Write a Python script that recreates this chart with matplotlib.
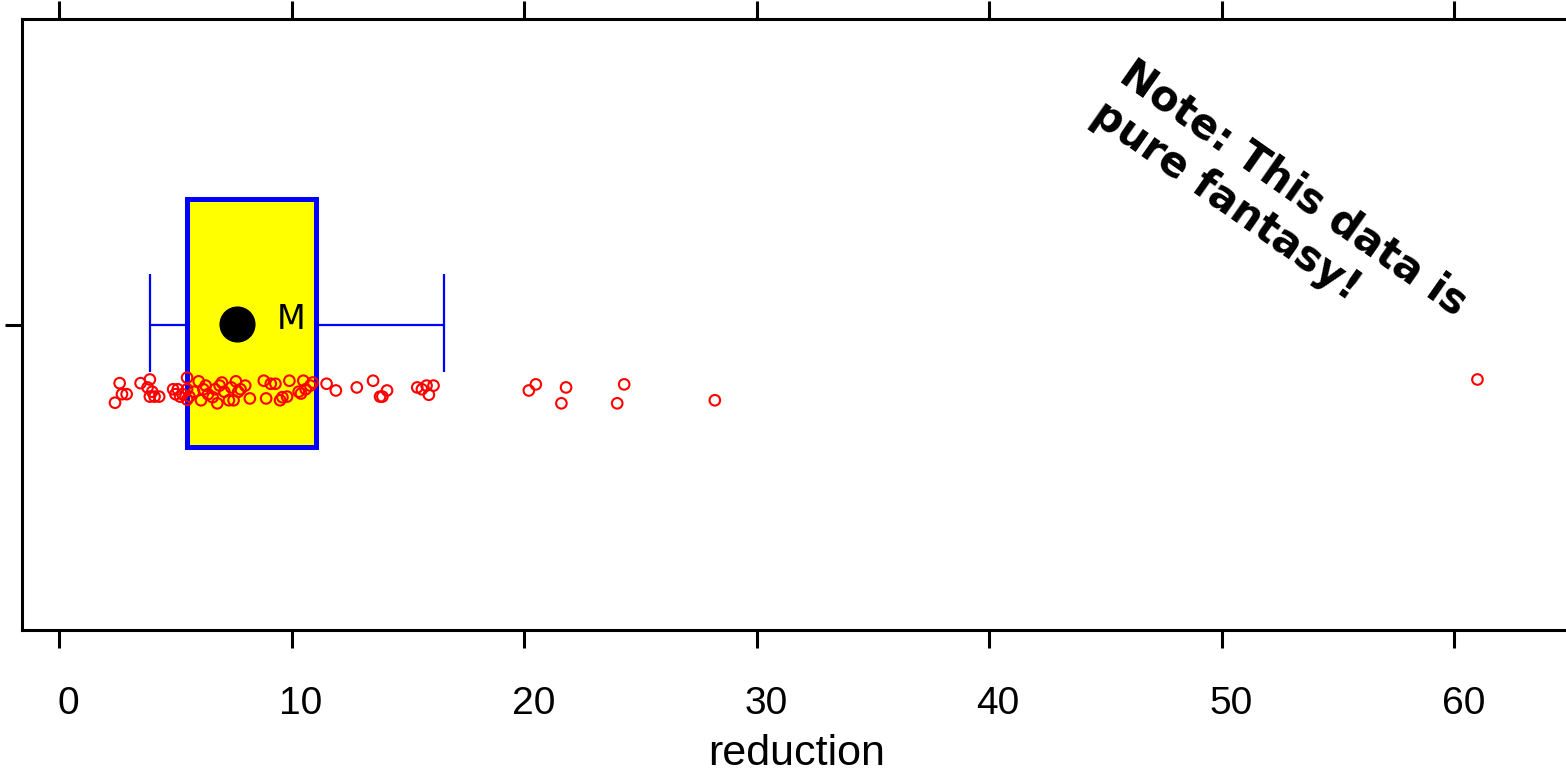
import matplotlib
matplotlib.use("Agg")
import matplotlib.pyplot as plt
import matplotlib.transforms as mtransforms
import numpy as np

# ---- data ----
reduction = [
    2.4, 2.6, 2.7, 2.9, 3.5, 3.8, 3.9, 3.9, 4.0, 4.1, 4.3, 4.9, 5.0, 5.1, 5.2, 5.3,
    5.5, 5.5, 5.5, 5.6, 5.8, 6.0, 6.1, 6.2, 6.3, 6.4, 6.6, 6.7, 6.8, 6.9, 7.0, 7.1,
    7.3, 7.4, 7.5, 7.6, 7.7, 7.8, 8.0, 8.2,
    8.8, 8.9, 9.1, 9.3, 9.5, 9.6, 9.8, 9.9, 10.3, 10.4, 10.5, 10.6, 10.8, 10.9,
    11.5, 11.9,
    12.8, 13.5, 13.8, 13.9, 14.1, 15.4, 15.6, 15.8, 15.9, 16.1,
    20.2, 20.5, 21.6, 21.8, 24.0, 24.3, 28.2, 61.0,
]
jitter = [
    0.872, 0.904, 0.886, 0.886, 0.904, 0.897, 0.910, 0.882, 0.890, 0.882, 0.882, 0.894,
    0.886, 0.894, 0.882, 0.886,
    0.913, 0.877, 0.894, 0.882, 0.890, 0.907, 0.876, 0.894, 0.900, 0.886, 0.881, 0.894,
    0.871, 0.900, 0.905, 0.890, 0.876, 0.897, 0.876, 0.907, 0.890, 0.894, 0.900, 0.879,
    0.908, 0.879, 0.903, 0.903, 0.876, 0.881, 0.882, 0.908, 0.890, 0.887, 0.908, 0.894,
    0.900, 0.905,
    0.903, 0.892,
    0.897, 0.908, 0.882, 0.882, 0.892, 0.897, 0.894, 0.900, 0.885, 0.900,
    0.892, 0.902, 0.871, 0.897, 0.871, 0.902, 0.876, 0.910,
]
q1, median, q3 = 5.5, 7.66, 11.05
whisker_low, whisker_high = 3.9, 16.56
xticks = [0, 10, 20, 30, 40, 50, 60]
note = "Note: This data is\npure fantasy!"

# ---- figure ----
W, H = 1566, 773
fig = plt.figure(figsize=(W / 100, H / 100), dpi=100)
xmin, xmax = -1.6, 66.0
ppu = 23.25
ax_w = (xmax - xmin) * ppu
ax = fig.add_axes([22 / W, (H - 630) / H, ax_w / W, 611 / H])
ax.set_xlim(xmin, xmax)
ax.set_ylim(0.5, 1.5)

# box
ax.barh([1.0025], [q3 - q1], left=q1, height=0.405, color="#FFFF00",
        edgecolor="#0000FF", linewidth=3.6, zorder=2)
# whiskers
ax.hlines([1.0, 1.0], [whisker_low, q3], [q1, whisker_high], color="#0000FF",
          linewidth=1.6, zorder=1)
ax.vlines([whisker_low, whisker_high], 0.922, 1.082, color="#0000FF",
          linewidth=1.6, zorder=1)
# median dot
ax.plot([median], [1.0015], "o", color="black", markersize=25, zorder=4)
ax.text(9.98, 1.008, "M", fontsize=24, ha="center", va="center",
        family="DejaVu Sans", zorder=4)

# points
ax.scatter(reduction, jitter, s=58, facecolors="none", edgecolors="#FF0000",
           linewidths=1.5, zorder=5)

# note
ax.text(52.5, 1.19, note, rotation=-35, rotation_mode="anchor",
        ha="center", va="center", multialignment="left",
        fontsize=30, fontweight="bold", family="DejaVu Sans")

# axes styling
for s in ax.spines.values():
    s.set_linewidth(2.2)
ax.set_xticks(xticks)
ax.set_xticklabels([str(t) for t in xticks], fontsize=28, family="Liberation Sans")
ax.set_yticks([1.0])
ax.set_yticklabels([])
ax.tick_params(axis="x", which="both", top=True, bottom=True, length=13,
               width=2.2, pad=27)
ax.tick_params(axis="y", which="both", left=True, length=12, width=2.2)
offset = mtransforms.ScaledTranslation(9 / 100, 0, fig.dpi_scale_trans)
for lab in ax.get_xticklabels():
    lab.set_transform(lab.get_transform() + offset)
ax.set_xlabel("reduction", fontsize=31, family="Liberation Sans", labelpad=9)
ax.xaxis.label.set_x((797 - 22) / ax_w)

fig.savefig("out.png", dpi=100)
